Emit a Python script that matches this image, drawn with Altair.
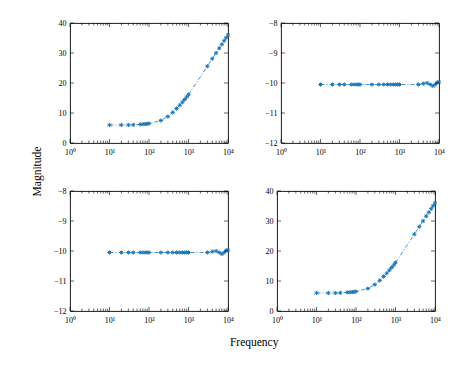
import altair as alt
import pandas as pd

freq = [10, 20, 30, 40, 60, 70, 80, 90, 100, 200, 300, 400, 500, 600, 700, 800, 900, 1000,
        3000, 4000, 5000, 6000, 7000, 8000, 9000, 10000]
mag_a = [6.0, 6.0, 6.0, 6.05, 6.2, 6.25, 6.3, 6.4, 6.5, 7.5, 8.8, 10.2, 11.5, 12.6, 13.6, 14.5, 15.3, 16.1,
         25.6, 28.1, 30.0, 31.6, 32.9, 34.1, 35.1, 36.0]
mag_b = [-10.05, -10.05, -10.05, -10.05, -10.05, -10.05, -10.05, -10.05, -10.05, -10.05, -10.05, -10.05,
         -10.05, -10.05, -10.05, -10.05, -10.05, -10.05,
         -10.05, -10.02, -10.0, -10.05, -10.1, -10.05, -9.98, -9.97]

x_major = [1, 10, 100, 1000, 10000]
x_labels = ["10⁰", "10¹", "10²", "10³", "10⁴"]
x_minor = [2, 3, 4, 5, 6, 7, 8, 9, 20, 30, 40, 50, 60, 70, 80, 90,
           200, 300, 400, 500, 600, 700, 800, 900, 2000, 3000, 4000, 5000, 6000, 7000, 8000, 9000]
y_ticks_a = [0, 10, 20, 30, 40]
y_ticks_b = [-12, -11, -10, -9, -8]

BLUE = "#1f77b4"
FONT = "Liberation Serif"
W, H = 158, 120
ASTERISK = "M-1,0L1,0M0,-1L0,1M-0.7,-0.7L0.7,0.7M-0.7,0.7L0.7,-0.7"

label_expr = ""
for v, l in zip(x_major, x_labels):
    label_expr += f"datum.value == {v} ? '{l}' : "
label_expr += "''"

xmaj_df = pd.DataFrame({"v": x_major})
xmin_df = pd.DataFrame({"v": x_minor})


def panel(mag, ydom, yticks):
    df = pd.DataFrame({"f": freq, "m": mag})
    xs = alt.Scale(type="log", domain=[1, 10000], nice=False)
    ys = alt.Scale(domain=ydom, nice=False, zero=False)
    xaxis = alt.Axis(values=x_major, labelExpr=label_expr, title=None, grid=False, ticks=False,
                     domain=False, labelFont=FONT, labelFontSize=8, labelPadding=5, labelColor="black",
                     labelFlush=False)
    yaxis = alt.Axis(values=yticks, title=None, grid=False, ticks=False, domain=False,
                     labelFont=FONT, labelFontSize=8, labelPadding=4, labelColor="black")
    base = alt.Chart(df)
    line = base.mark_line(color=BLUE, strokeWidth=0.8, strokeDash=[4, 2, 1, 2]).encode(
        x=alt.X("f:Q", scale=xs, axis=xaxis), y=alt.Y("m:Q", scale=ys, axis=yaxis))
    pts = base.mark_point(shape=ASTERISK, filled=False, color=BLUE, strokeWidth=1.0, size=18, opacity=1).encode(
        x=alt.X("f:Q", scale=xs, axis=xaxis), y=alt.Y("m:Q", scale=ys, axis=yaxis))
    layers = [line, pts]
    for d, ln in ((xmaj_df, 4), (xmin_df, 2.5)):
        layers.append(alt.Chart(d).mark_rule(color="black", strokeWidth=0.6).encode(
            x=alt.X("v:Q", scale=xs, axis=xaxis), y=alt.value(H), y2=alt.value(H - ln)))
        layers.append(alt.Chart(d).mark_rule(color="black", strokeWidth=0.6).encode(
            x=alt.X("v:Q", scale=xs, axis=xaxis), y=alt.value(0), y2=alt.value(ln)))
    ydf = pd.DataFrame({"v": yticks})
    layers.append(alt.Chart(ydf).mark_rule(color="black", strokeWidth=0.6).encode(
        y=alt.Y("v:Q", scale=ys, axis=yaxis), x=alt.value(0), x2=alt.value(4)))
    layers.append(alt.Chart(ydf).mark_rule(color="black", strokeWidth=0.6).encode(
        y=alt.Y("v:Q", scale=ys, axis=yaxis), x=alt.value(W - 4), x2=alt.value(W)))
    return alt.layer(*layers).properties(width=W, height=H)


p1 = panel(mag_a, [0, 40], y_ticks_a)
p2 = panel(mag_b, [-12, -8], y_ticks_b)
p3 = panel(mag_b, [-12, -8], y_ticks_b)
p4 = panel(mag_a, [0, 40], y_ticks_a)

inner = alt.vconcat(
    alt.hconcat(p1, p2, spacing=30),
    alt.hconcat(p3, p4, spacing=30),
    spacing=29,
    title=alt.Title("Magnitude", orient="left", anchor="middle", font=FONT, fontSize=11.5,
                    fontWeight="normal", offset=10, color="black"),
)
chart = alt.vconcat(
    inner,
    title=alt.Title("Frequency", orient="bottom", anchor="middle", font=FONT, fontSize=11.5,
                    fontWeight="normal", offset=13, color="black", dx=16),
).configure_view(stroke="black", strokeWidth=0.9).properties(
    padding={"left": 23, "top": 10, "right": 5, "bottom": 5}
)

chart.save("out.html", embed_options={"renderer": "svg", "actions": False})
